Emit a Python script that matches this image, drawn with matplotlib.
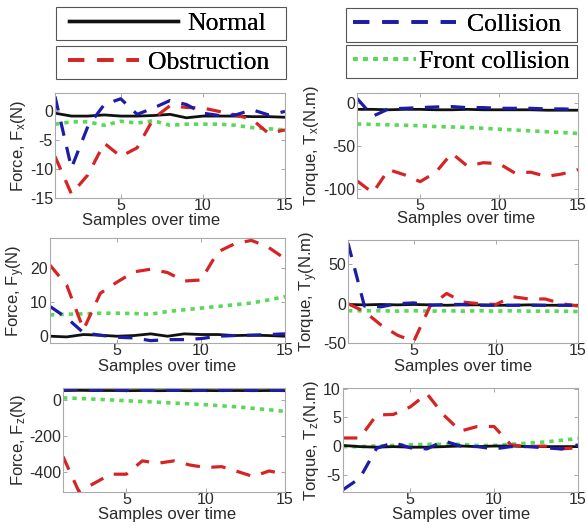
import numpy as np
import matplotlib
matplotlib.use("Agg")
import matplotlib.pyplot as plt
from matplotlib.lines import Line2D
from matplotlib.patches import Rectangle

plt.rcParams['font.family'] = ['Liberation Sans', 'DejaVu Sans']
plt.rcParams['mathtext.fontset'] = 'custom'
plt.rcParams['mathtext.rm'] = 'Liberation Sans'
plt.rcParams['mathtext.it'] = 'Liberation Sans'
plt.rcParams['axes.unicode_minus'] = False

# samples 1..15
samples = list(range(1, 16))

# Force x
fx_normal = [-0.3, -0.8, -0.8, -0.6, -0.8, -0.8, -0.7, -0.5, -1.1, -0.8, -0.8, -0.8, -0.9, -0.9, -1.0]
fx_collision = [2.6, -9.8, -2.6, 1.2, 2.2, -0.5, 0.6, 1.9, 1.2, -0.3, -0.7, -0.6, 0.3, -0.6, 0.0]
fx_obstruction = [-7.8, -14.3, -11.0, -5.5, -7.8, -6.3, -1.2, 1.0, 0.7, 0.6, 0.0, -0.6, -1.4, -3.8, -3.2]
fx_front = [-2.2, -1.8, -1.8, -2.4, -1.7, -2.0, -1.6, -2.4, -2.2, -2.2, -2.2, -2.4, -2.8, -3.0, -3.2]

# Torque x
tx_normal = [-7, -7, -7.5, -7, -7, -7.5, -7.5, -7, -7.5, -7.5, -7.5, -7.5, -8, -8, -8]
tx_collision = [5.8, -15, -6.5, -5.8, -5, -4.2, -3.8, -5, -5, -5.8, -5.8, -5.8, -6.5, -6.5, -7]
tx_obstruction = [-90, -104, -77, -83, -91, -80, -58, -73, -69, -70, -81, -80, -85, -82, -77]
tx_front = [-24, -24.5, -25, -25.5, -26, -27, -27.5, -28, -29, -30, -31, -32, -33, -34, -35]

# Force y
fy_normal = [0.0, -0.2, 0.5, 0.3, 0.0, 0.2, 0.7, 0.0, 0.7, 0.5, 0.5, 0.2, 0.3, 0.2, 0.0]
fy_collision = [8.8, 5.4, 1.0, 0.3, -0.3, -0.5, -1.3, -1.0, -1.0, -0.7, 0.0, 0.2, 0.3, 0.5, 0.7]
fy_obstruction = [21, 15, 2, 12.7, 16, 19, 19.8, 18.8, 16.3, 16.6, 24.9, 27.3, 28.3, 26.3, 22.9]
fy_front = [6.3, 6.5, 6.6, 6.8, 6.8, 6.7, 6.5, 7.3, 7.8, 8.3, 8.8, 9.3, 9.8, 10.7, 11.7]

# Torque y
ty_normal = [-1, -1.5, -1, -1.5, -1, -1.5, -2, -1.5, -1.5, -2, -2, -1.5, -2, -2, -2]
ty_collision = [77, -3, -4, 0, 1, -2, -1, -1, -2, -2, -2, -2, -2, -2, -2]
ty_obstruction = [0, -10, -27, -40, -48, -3, 13, 2, 0, -1, 9, 6, 6, 0, -3]
ty_front = [-9, -9, -9, -9.5, -9, -9.5, -9, -9.5, -9, -9.5, -9, -9.5, -9.5, -9.5, -10]

# Force z
fz_normal = [54, 55, 54, 54, 53, 54, 53, 54, 53, 54, 53, 54, 53, 54, 53]
fz_collision = [55, 62, 56, 55, 56, 55, 56, 55, 56, 55, 56, 55, 56, 55, 55]
fz_obstruction = [-313, -507, -460, -411, -411, -337, -350, -337, -360, -374, -369, -396, -424, -393, -411]
fz_front = [13, 10, 6, 2, -3, -7, -11, -16, -20, -25, -31, -37, -45, -53, -62]

# Torque z
tz_normal = [0.1, -0.1, -0.2, -0.1, -0.2, -0.2, -0.1, 0.0, -0.1, 0.0, 0.0, -0.1, -0.1, -0.1, -0.1]
tz_collision = [-7.6, -5.6, -0.4, 0.6, -0.3, -0.5, 0.9, 0.0, -0.1, -0.5, -0.1, -0.1, -0.3, -0.5, 0.2]
tz_obstruction = [1.4, 1.4, 5.4, 5.5, 6.8, 9.1, 5.4, 2.6, 3.4, 3.4, 0.2, -0.1, 0.0, -0.5, -0.3]
tz_front = [-0.1, -0.1, 0.0, 0.1, 0.2, 0.3, 0.3, 0.3, 0.1, 0.1, 0.3, 0.5, 0.7, 1.0, 1.3]

labels = ['Normal', 'Obstruction', 'Collision', 'Front collision']

# line styles
c_normal = '#111111'
c_obstr = '#d62424'
c_coll = '#1c1ca8'
c_front = '#5ad85a'
dash = (0, (4.5, 3.6))
dot = (0, (1.2, 1.4))

W, H = 587, 528
fig = plt.figure(figsize=(W / 100, H / 100), dpi=100)


def px_rect(left, right, top, bottom):
    return [left / W, 1 - bottom / H, (right - left) / W, (bottom - top) / H]


def panel(rect, data, ylim, yticks, ylabel, ylab_x, xlab_xy):
    ax = fig.add_axes(px_rect(*rect))
    normal, obstr, coll, front = data
    ax.plot(samples, front, color=c_front, lw=2.6, linestyle=dot)
    ax.plot(samples, normal, color=c_normal, lw=2.0)
    ax.plot(samples, obstr, color=c_obstr, lw=2.3, linestyle=dash)
    ax.plot(samples, coll, color=c_coll, lw=2.3, linestyle=dash)
    ax.set_xlim(1, 15)
    ax.set_ylim(*ylim)
    ax.set_xticks([5, 10, 15])
    ax.set_yticks(yticks)
    ax.tick_params(direction='in', length=3, width=0.6, color='#999999',
                   labelsize=11.5, labelcolor='#2a2a2a', top=True, right=True, pad=1.5)
    ax.tick_params(axis='x', pad=0)
    for s in ax.spines.values():
        s.set_color('#aaaaaa')
        s.set_linewidth(0.8)
    ax.set_ylabel(ylabel, fontsize=12, color='#2a2a2a')
    ax.yaxis.set_label_coords(ylab_x / W, (1 - (rect[2] + rect[3]) / 2 / H), transform=fig.transFigure)
    ax.set_xlabel('Samples over time', fontsize=12, color='#2a2a2a')
    ax.xaxis.label.set_va('center')
    ax.xaxis.set_label_coords(xlab_xy[0] / W, 1 - xlab_xy[1] / H, transform=fig.transFigure)
    return ax


panel((55, 285, 93, 198), (fx_normal, fx_obstruction, fx_collision, fx_front),
      (-15, 3.2), [-15, -10, -5, 0], r'Force, F$_\mathrm{x}$(N)', 28, (151, 220))
panel((357, 578, 93, 198), (tx_normal, tx_obstruction, tx_collision, tx_front),
      (-110, 12), [-100, -50, 0], r'Torque, T$_\mathrm{x}$(N.m)', 321, (466, 219))
panel((50, 285, 238, 343), (fy_normal, fy_obstruction, fy_collision, fy_front),
      (-2, 29), [0, 10, 20], r'Force, F$_\mathrm{y}$(N)', 27, (167, 367))
panel((348, 578, 240, 343), (ty_normal, ty_obstruction, ty_collision, ty_front),
      (-50, 81), [-50, 0, 50], r'Torque, T$_\mathrm{y}$(N.m)', 320, (463, 366))
panel((63, 285, 388, 492), (fz_normal, fz_obstruction, fz_collision, fz_front),
      (-510, 68), [-400, -200, 0], r'Force, F$_\mathrm{z}$(N)', 28, (167, 515))
panel((343, 578, 388, 492), (tz_normal, tz_obstruction, tz_collision, tz_front),
      (-8, 10.1), [-5, 0, 5, 10], r'Torque, T$_\mathrm{z}$(N.m)', 321, (461, 514))

# legend boxes (one entry each, like the original)
handles = [
    Line2D([], [], color=c_normal, lw=2.4),
    Line2D([], [], color=c_obstr, lw=2.6, linestyle=dash),
    Line2D([], [], color=c_coll, lw=2.6, linestyle=dash),
    Line2D([], [], color=c_front, lw=2.8, linestyle=dot),
]
# box (left, right, top, bottom), handle start x, handle length, text pad
boxes = [((56, 286, 7, 40), 69, 4.25, 0.35),
         ((56, 286, 46, 79), 68, 2.75, 0.35),
         ((346, 577, 8, 42), 353, 4.0, 0.45),
         ((346, 577, 45, 78), 353, 2.45, 0.12)]
for h, lab, (box, hx, hl, pad) in zip(handles, labels, boxes):
    l, r, t, b = box
    fig.add_artist(Rectangle((l / W, 1 - b / H), (r - l) / W, (b - t) / H,
                             transform=fig.transFigure, fill=False,
                             edgecolor='#555555', lw=0.8))
    leg = fig.legend([h], [lab], loc='center left',
                     bbox_to_anchor=(hx / W, 1 - (t + b) / 2 / H),
                     prop={'family': 'Liberation Serif', 'size': 18.5},
                     handlelength=hl, handletextpad=pad, borderpad=0,
                     borderaxespad=0, frameon=False)
    fig.add_artist(leg)

fig.savefig('out.png', dpi=100)
